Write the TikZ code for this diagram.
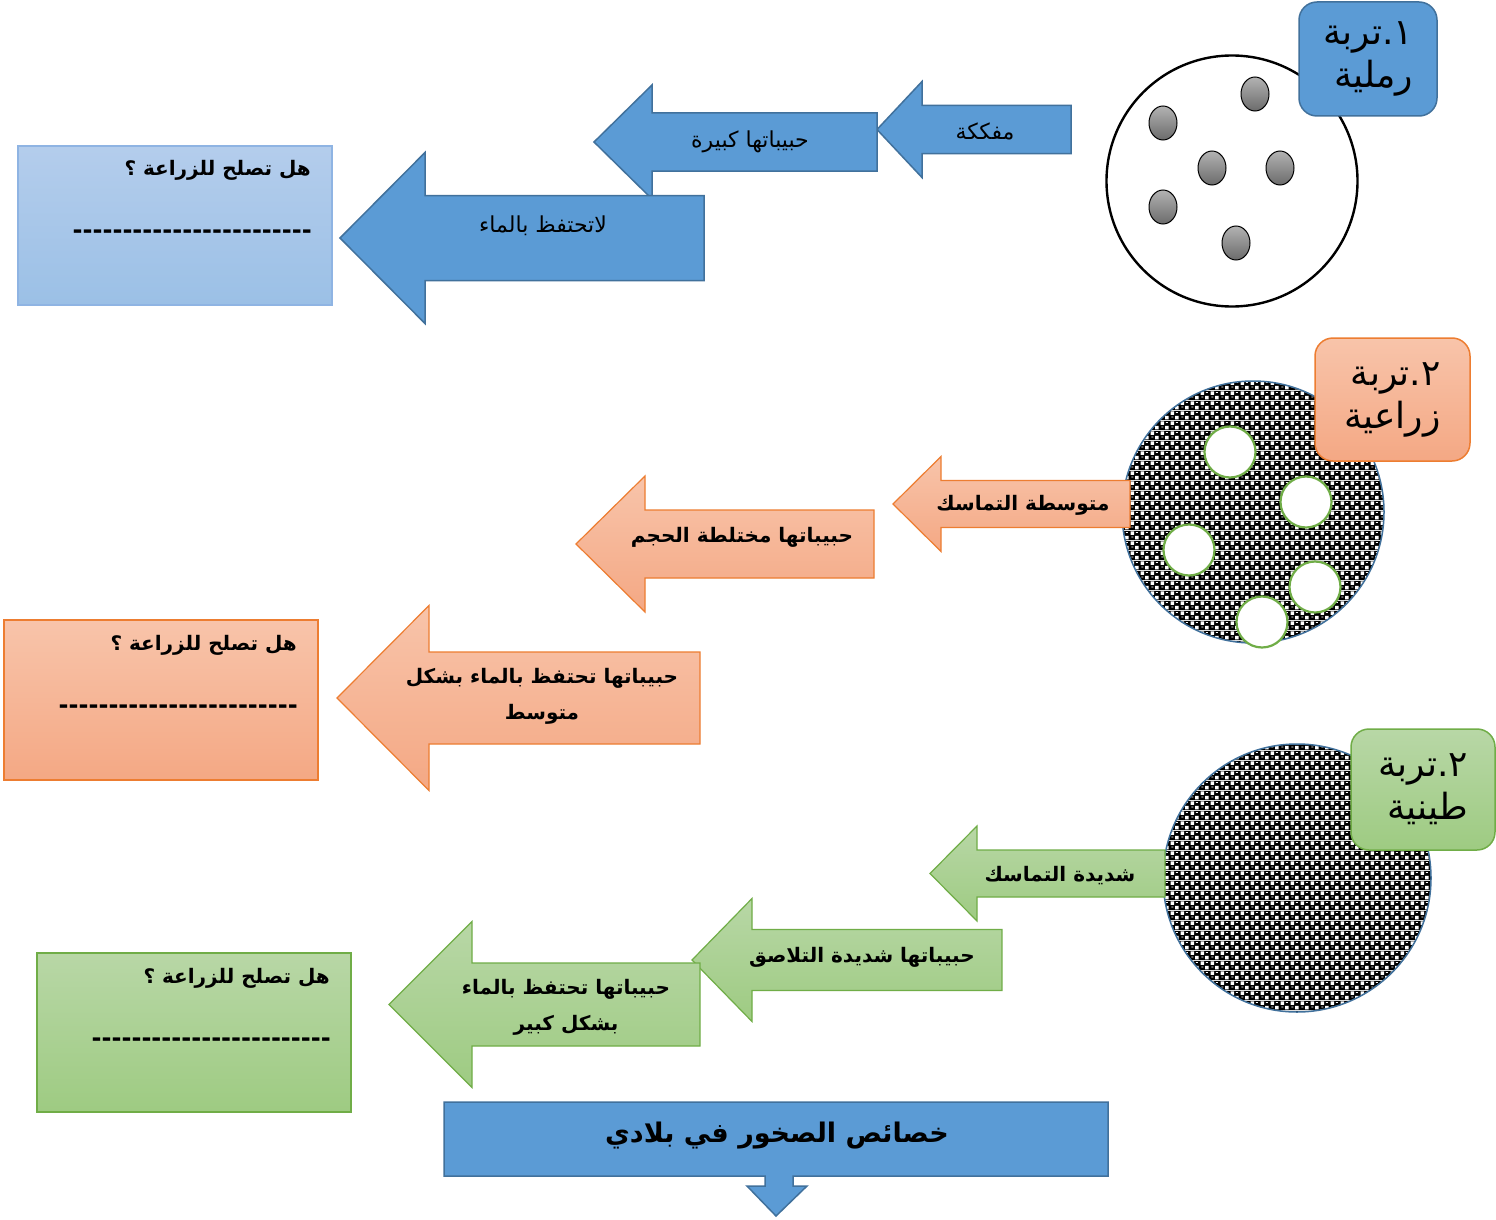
\documentclass[tikz,border=0pt]{standalone}
\usepackage{fontspec}
\usetikzlibrary{patterns.meta}

\newfontfamily\arabicfont[Script=Arabic]{DejaVu Sans}
\TeXXeTstate=1
\newcommand{\artext}[1]{\beginR #1\endR}

\definecolor{soilblue}{HTML}{5B9BD5}
\definecolor{soilblueline}{HTML}{41719C}
\definecolor{sandtop}{RGB}{180,205,236}
\definecolor{sandbot}{RGB}{155,192,230}
\definecolor{sandline}{RGB}{143,180,227}
\definecolor{farmtop}{RGB}{248,196,170}
\definecolor{farmbot}{RGB}{244,168,132}
\definecolor{farmline}{HTML}{ED7D31}
\definecolor{claytop}{RGB}{184,215,166}
\definecolor{claybot}{RGB}{158,203,130}
\definecolor{clayline}{HTML}{70AD47}

% black grains with white gaps, for the two packed soils
\tikzdeclarepattern{
  name=claygrain,
  type=colored,
  bottom left={(0pt,0pt)},
  top right={(10pt,10pt)},
  tile size={(10pt,10pt)},
  code={
    \fill[black] (0pt,0pt) rectangle (10pt,10pt);
    \fill[white] (5.6pt,0.6pt) rectangle (9.4pt,4.4pt);
    \fill[white] (0.6pt,5.6pt) rectangle (4.4pt,9.4pt);
    \fill[white] (1.4pt,2.8pt) rectangle (3.6pt,3.6pt);
    \fill[white] (6.4pt,7.8pt) rectangle (8.6pt,8.6pt);
  }
}

% block arrow pointing left: tip x, neck x, tail x, mid y, half shaft, half head
\newcommand{\leftblock}[7][]{%
  \draw[#1] (#2,#5) -- (#3,#5-#7) -- (#3,#5-#6) -- (#4,#5-#6)
    -- (#4,#5+#6) -- (#3,#5+#6) -- (#3,#5+#7) -- cycle;}

\begin{document}
\begin{tikzpicture}[x=1pt,y=-1pt,
    armtext/.style={font=\arabicfont\fontsize{22}{36}\selectfont,align=center,inner sep=0pt},
    armbold/.style={font=\arabicfont\bfseries\fontsize{20}{36}\selectfont,align=center,inner sep=0pt},
    dashtext/.style={font=\arabicfont\bfseries\fontsize{24}{28}\selectfont,inner sep=0pt},
    tagtext/.style={font=\arabicfont\fontsize{36}{43}\selectfont,align=right,
      rounded corners=18pt,line width=1.5pt,inner sep=0pt},
    question/.style={rectangle,line width=1.2pt,inner sep=0pt},
    grain/.style={draw=black,line width=1pt,top color=black!30,bottom color=black!58},
    hole/.style={circle,draw=clayline,line width=2.2pt,fill=white,minimum size=51pt,inner sep=0pt},
    sandarrow/.style={fill=soilblue,draw=soilblueline,line width=1.5pt},
    farmarrow/.style={top color=farmtop,bottom color=farmbot,draw=farmline,line width=1.2pt},
    clayarrow/.style={top color=claytop,bottom color=claybot,draw=clayline,line width=1.2pt}]

  \useasboundingbox[fill=white] (0,0) rectangle (1496,1220);

  % sandy soil
  \node[circle,draw=black,line width=2.4pt,fill=white,minimum size=251pt,inner sep=0pt] (sandcirc) at (1232,181) {};
  \draw[grain] (1255,94) ellipse [x radius=14,y radius=17];
  \draw[grain] (1163,123) ellipse [x radius=14,y radius=17];
  \draw[grain] (1212,168) ellipse [x radius=14,y radius=17];
  \draw[grain] (1280,168) ellipse [x radius=14,y radius=17];
  \draw[grain] (1163,207) ellipse [x radius=14,y radius=17];
  \draw[grain] (1236,243) ellipse [x radius=14,y radius=17];
  \node[tagtext,fill=soilblue,draw=soilblueline,minimum width=138pt,minimum height=114pt] (sandtag) at (1368,59)
    {\artext{١.تربة}\\\artext{رملية}};

  \leftblock[sandarrow]{877}{922}{1071}{129.5}{24}{48}
  \leftblock[sandarrow]{594}{652}{877}{142}{29}{57}
  \leftblock[sandarrow]{340}{425}{704}{238}{42.5}{85.5}

  \begin{scope}[every node/.style={armtext}]
    \node (mafakkaka) at (985,131) {\artext{مفككة}};
    \node (kabira) at (750,142) {\artext{حبيباتها كبيرة}};
    \node (latahtafiz) at (543,226) {\artext{لاتحتفظ بالماء}};
  \end{scope}

  \node[question,top color=sandtop,bottom color=sandbot,draw=sandline,minimum width=314pt,minimum height=159pt] (sandbox) at (175,225.5) {};
  \node[armbold,anchor=east] (sandask) at (311,170) {\artext{هل تصلح للزراعة ؟}};
  \node[dashtext,anchor=east] (sanddash) at (312,234) {\foreach \d in {1,...,24}{-}};

  % farm soil
  \node[circle,draw=soilblueline,line width=1.5pt,pattern=claygrain,minimum size=262pt,inner sep=0pt] (farmcirc) at (1253,512) {};
  \node[hole] (farmhole1) at (1230,452) {};
  \node[hole] (farmhole2) at (1306,502) {};
  \node[hole] (farmhole3) at (1189,550) {};
  \node[hole] (farmhole4) at (1315,587) {};
  \node[hole] (farmhole5) at (1262,622) {};
  \node[tagtext,top color=farmtop,bottom color=farmbot,draw=farmline,minimum width=155pt,minimum height=123pt] (farmtag) at (1392.5,399.5)
    {\artext{٢.تربة}\\\artext{زراعية}};

  \leftblock[farmarrow]{893}{941}{1130}{504}{23.5}{47.5}
  \leftblock[farmarrow]{576}{645}{874}{544}{34}{68}
  \leftblock[farmarrow]{337}{429}{700}{698}{46}{92.5}

  \begin{scope}[every node/.style={armbold}]
    \node (mutawassita) at (1023,505) {\artext{متوسطة التماسك}};
    \node (mukhtalita) at (742,537) {\artext{حبيباتها مختلطة الحجم}};
    \node (farmwater) at (542,696) {\artext{حبيباتها تحتفظ بالماء بشكل}\\\artext{متوسط}};
  \end{scope}

  \node[question,top color=farmtop,bottom color=farmbot,draw=farmline,minimum width=314pt,minimum height=160pt] (farmbox) at (161,700) {};
  \node[armbold,anchor=east] (farmask) at (297,645) {\artext{هل تصلح للزراعة ؟}};
  \node[dashtext,anchor=east] (farmdash) at (298,709) {\foreach \d in {1,...,24}{-}};

  % clay soil
  \node[circle,draw=soilblueline,line width=1.5pt,pattern=claygrain,minimum size=268pt,inner sep=0pt] (claycirc) at (1297,878) {};
  \node[tagtext,top color=claytop,bottom color=claybot,draw=clayline,minimum width=144pt,minimum height=121pt] (claytag) at (1423,789.5)
    {\artext{٢.تربة}\\\artext{طينية}};

  \leftblock[clayarrow]{930}{977}{1165}{873.5}{23.5}{47.5}
  \leftblock[clayarrow]{692}{752}{1002}{960}{30.5}{61.5}
  \leftblock[clayarrow]{389}{472}{700}{1004.5}{41.5}{83}

  \begin{scope}[every node/.style={armbold}]
    \node (shadida) at (1060,876) {\artext{شديدة التماسك}};
    \node (talasuq) at (862,957) {\artext{حبيباتها شديدة التلاصق}};
    \node (claywater) at (566,1007) {\artext{حبيباتها تحتفظ بالماء}\\\artext{بشكل كبير}};
  \end{scope}

  \node[question,top color=claytop,bottom color=claybot,draw=clayline,minimum width=314pt,minimum height=159pt] (claybox) at (194,1032.5) {};
  \node[armbold,anchor=east] (clayask) at (330,978) {\artext{هل تصلح للزراعة ؟}};
  \node[dashtext,anchor=east] (claydash) at (331,1042) {\foreach \d in {1,...,24}{-}};

  % title with down arrow
  \draw[sandarrow] (444,1102) -- (1108,1102) -- (1108,1176) -- (793,1176) -- (793,1186) -- (807,1186)
    -- (776,1216) -- (747,1186) -- (765,1186) -- (765,1176) -- (444,1176) -- cycle;
  \node[armbold,font=\arabicfont\bfseries\fontsize{27}{32}\selectfont] (rockstitle) at (777,1136) {\artext{خصائص الصخور في بلادي}};

\end{tikzpicture}
\end{document}
